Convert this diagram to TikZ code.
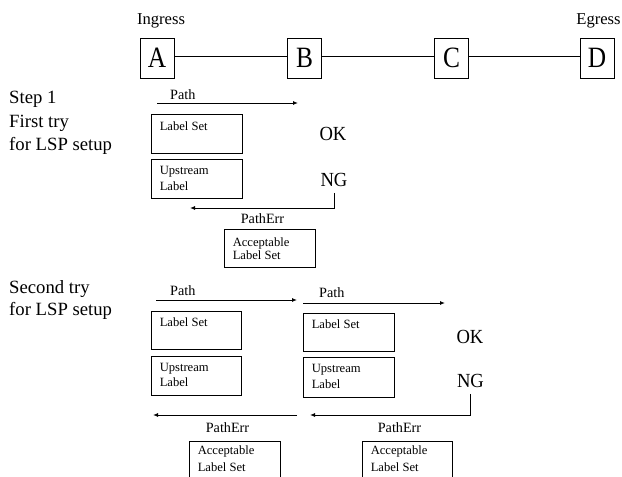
\documentclass[tikz,border=0pt]{standalone}
\usepackage{fontspec}
\setmainfont{Liberation Serif}
\newfontfamily\routerfont[FakeStretch=0.86]{Liberation Serif}
\newfontfamily\statusfont[FakeStretch=0.93]{Liberation Serif}
\usetikzlibrary{arrows.meta}
\tikzset{
  x=1pt, y=-1pt,
  every node/.style={inner sep=0pt},
  ln/.style={line width=0.9pt, draw=black},
  arr/.style={ln, -{Latex[length=5pt,width=4pt]}},
  router/.style={draw, line width=0.9pt, minimum width=34pt, minimum height=40pt, inner sep=0pt,
    font=\routerfont\fontsize{29.5}{29.5}\selectfont},
  msgbox/.style={draw, line width=0.9pt, minimum width=91pt, minimum height=39pt},
  big/.style={font=\fontsize{18.7}{22}\selectfont, anchor=base west},
  status/.style={font=\statusfont\fontsize{20}{20}\selectfont, inner sep=6pt},
  msg/.style={font=\fontsize{14.2}{14}\selectfont},
  small/.style={font=\fontsize{12.6}{12.5}\selectfont, anchor=base west},
  hdr/.style={font=\fontsize{16.6}{16.5}\selectfont, anchor=base},
}
\begin{document}
\begin{tikzpicture}
\clip (0,0) rectangle (622,477);
% header
\node[hdr] (ingress) at (161,24) {Ingress};
\node[hdr] (egress) at (598.5,24) {Egress};
\node[router] (A) at (157,58) {A};
\node[router] (B) at (304.5,58) {B};
\node[router] (C) at (451.5,58) {C};
\node[router] (D) at (597,58) {D};
\draw[ln] ([yshift=2pt]A.east) -- ([yshift=2pt]B.west);
\draw[ln] ([yshift=2pt]B.east) -- ([yshift=2pt]C.west);
\draw[ln] ([yshift=2pt]C.east) -- ([yshift=2pt]D.west);

% step 1
\node[big] (s1a) at (9,103) {Step 1};
\node[big] (s1b) at (9,127) {First try};
\node[big] (s1c) at (9,150) {for LSP setup};
\coordinate (p1a) at (157,103);
\coordinate (p1b) at (298,103);
\draw[arr] (p1a) -- (p1b);
\node[msg, anchor=base west] (path1) at (170,99) {Path};
\node[msgbox] (ls1) at (196.5,133.5) {};
\node[small] (ls1t) at ([xshift=9pt,yshift=-17pt]ls1.north west) {Label Set};
\node[msgbox] (us1) at (196.5,178.5) {};
\node[small] (us1t) at ([xshift=9pt,yshift=-16pt]us1.north west) {Upstream};
\node[small] (us1u) at ([xshift=9pt,yshift=-32pt]us1.north west) {Label};
\node[status] (ok1) at (333,134) {OK};
\node[status] (ng1) at (334,180) {NG};
\coordinate (e1) at (190,208);
\draw[arr] (ng1.south) |- (e1);
\node[msg, anchor=base] (err1) at (262.5,223) {PathErr};
\node[msgbox, minimum height=38pt] (acc1) at (269.5,248) {};
\node[small] (acc1t) at ([xshift=9pt,yshift=-18pt]acc1.north west) {Acceptable};
\node[small] (acc1u) at ([xshift=9pt,yshift=-31pt]acc1.north west) {Label Set};

% second try
\node[big] (s2a) at (9,293) {Second try};
\node[big] (s2b) at (9,315) {for LSP setup};
\coordinate (p2a) at (156,300);
\coordinate (p2b) at (297,300);
\draw[arr] (p2a) -- (p2b);
\node[msg, anchor=base west] (path2) at (170,295) {Path};
\coordinate (p3a) at (303,303);
\coordinate (p3b) at (445,303);
\draw[arr] (p3a) -- (p3b);
\node[msg, anchor=base west] (path3) at (319,297) {Path};

\node[msgbox, minimum width=90pt, minimum height=38pt] (ls2) at (196,330) {};
\node[small] (ls2t) at ([xshift=9pt,yshift=-16pt]ls2.north west) {Label Set};
\node[msgbox, minimum width=90pt] (us2) at (196,375.5) {};
\node[small] (us2t) at ([xshift=9pt,yshift=-16pt]us2.north west) {Upstream};
\node[small] (us2u) at ([xshift=9pt,yshift=-31pt]us2.north west) {Label};

\node[msgbox, minimum height=38pt] (ls3) at (348.5,332) {};
\node[small] (ls3t) at ([xshift=9pt,yshift=-16pt]ls3.north west) {Label Set};
\node[msgbox, minimum height=40pt] (us3) at (348.5,377) {};
\node[small] (us3t) at ([xshift=9pt,yshift=-16pt]us3.north west) {Upstream};
\node[small] (us3u) at ([xshift=9pt,yshift=-32pt]us3.north west) {Label};

\node[status] (ok2) at (470,336.5) {OK};
\node[status] (ng2) at (470.5,381) {NG};
\coordinate (e2) at (310,415);
\draw[arr] (ng2.south) |- (e2);
\coordinate (e3a) at (297,415);
\coordinate (e3b) at (153,415);
\draw[arr] (e3a) -- (e3b);
\node[msg, anchor=base] (err2) at (227.5,432) {PathErr};
\node[msg, anchor=base] (err3) at (399.5,432) {PathErr};

\node[msgbox, minimum height=50pt] (acc2) at (234.5,466) {};
\node[small] (acc2t) at ([xshift=9pt,yshift=-14pt]acc2.north west) {Acceptable};
\node[small] (acc2u) at ([xshift=9pt,yshift=-31pt]acc2.north west) {Label Set};
\node[msgbox, minimum width=90pt, minimum height=50pt] (acc3) at (407,466) {};
\node[small] (acc3t) at ([xshift=9pt,yshift=-14pt]acc3.north west) {Acceptable};
\node[small] (acc3u) at ([xshift=9pt,yshift=-31pt]acc3.north west) {Label Set};
\end{tikzpicture}
\end{document}
